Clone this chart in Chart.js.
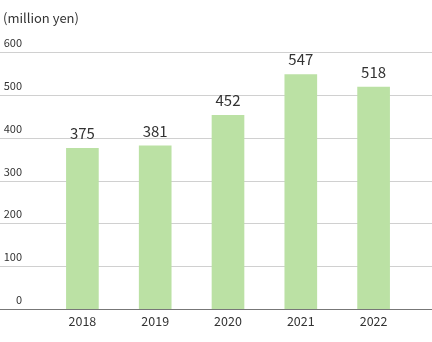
<!DOCTYPE html>
<html>
<head>
<meta charset="utf-8">
<script src="https://cdn.jsdelivr.net/npm/chart.js@4"></script>
<style>
  html, body { margin: 0; padding: 0; background: #fff; }
  #wrap { width: 432px; height: 342px; position: relative; }
</style>
</head>
<body>
<div id="wrap"><canvas id="myChart"></canvas></div>
<script>
const years = ['2018', '2019', '2020', '2021', '2022'];
const sales = [375, 381, 452, 547, 518];
const yTicks = [0, 100, 200, 300, 400, 500, 600];
const unitLabel = '(million yen)';

const FONT = "'Noto Sans CJK JP', 'Noto Sans', sans-serif";
const ctx = document.getElementById('myChart');

// grid lines, y labels and the unit text are drawn across the full width
const gridPlugin = {
  id: 'fullGrid',
  beforeDatasetsDraw(chart) {
    const c = chart.ctx;
    const y = chart.scales.y;
    const w = chart.width;
    c.save();
    c.font = '11px ' + FONT;
    c.fillStyle = '#333';
    c.textAlign = 'right';
    c.textBaseline = 'middle';
    yTicks.forEach(v => {
      const py = Math.round(y.getPixelForValue(v)) + 0.5;
      c.strokeStyle = v === 0 ? '#777' : '#d0d0d0';
      c.lineWidth = 1;
      c.beginPath();
      c.moveTo(0, py);
      c.lineTo(w, py);
      c.stroke();
      c.fillText(String(v), 22, py - 10);
    });
    c.textAlign = 'left';
    c.font = '13px ' + FONT;
    c.fillText(unitLabel, 3, 18);
    c.restore();
  },
  afterDatasetsDraw(chart) {
    const c = chart.ctx;
    const meta = chart.getDatasetMeta(0);
    c.save();
    c.font = '15px ' + FONT;
    c.fillStyle = '#333';
    c.textAlign = 'center';
    c.textBaseline = 'middle';
    meta.data.forEach((bar, i) => {
      c.fillText(String(sales[i]), bar.x, bar.y - 15);
    });
    c.restore();
  }
};

new Chart(ctx, {
  type: 'bar',
  data: {
    labels: years,
    datasets: [{
      data: sales,
      backgroundColor: '#bbe1a4',
      borderWidth: 0,
      barThickness: 32
    }]
  },
  options: {
    responsive: true,
    maintainAspectRatio: false,
    animation: false,
    layout: {
      padding: { left: 46, right: 22, top: 52, bottom: 8 }
    },
    plugins: {
      legend: { display: false },
      tooltip: { enabled: false }
    },
    scales: {
      x: {
        grid: { display: false, drawTicks: false },
        border: { display: false },
        ticks: {
          color: '#333',
          padding: 5,
          font: { family: FONT, size: 12.5 }
        }
      },
      y: {
        display: false,
        min: 0,
        max: 600
      }
    }
  },
  plugins: [gridPlugin]
});
</script>
</body>
</html>
